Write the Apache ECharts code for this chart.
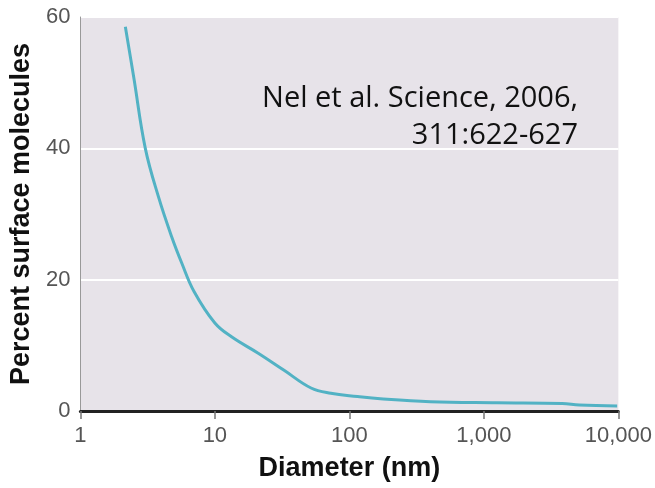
<!DOCTYPE html>
<html>
<head>
<meta charset="utf-8">
<script src="https://cdn.jsdelivr.net/npm/echarts@6/dist/echarts.min.js"></script>
<style>
  html, body { margin: 0; padding: 0; background: #fff; }
  #chart { width: 655px; height: 488px; }
</style>
</head>
<body>
<div id="chart"></div>
<script>
// diameter in nm (log axis) and percent of molecules at the surface
const diameters = [2.16, 2.49, 3.04, 3.81, 4.78, 5.68, 7.0, 10, 13.3, 21, 32.7, 51.9, 72.8, 115, 170, 400, 1250, 3820, 5130, 9800]
const percents = [58.5, 50.9, 40, 32.6, 26.5, 22.5, 18.2, 13.4, 11.3, 8.8, 6.2, 3.5, 2.7, 2.2, 1.85, 1.4, 1.25, 1.15, 0.9, 0.75]
const yTicks = [0, 20, 40, 60]
const citation = ['Nel et al. Science, 2006,', '311:622-627']

const chart = echarts.init(document.getElementById('chart'))

const fmt = v => Number(v).toLocaleString('en-US')

const option = {
  animation: false,
  grid: {
    left: 78, right: 35, top: 17, bottom: 77,
    show: true,
    backgroundColor: '#e7e3e9',
    borderWidth: 0
  },
  xAxis: {
    type: 'log',
    logBase: 10,
    min: 1,
    max: 10000,
    name: 'Diameter (nm)',
    nameLocation: 'middle',
    nameGap: 44,
    nameTextStyle: { fontFamily: 'Liberation Sans', fontWeight: 'bold', fontSize: 27, color: '#111' },
    axisLine: { show: true, lineStyle: { color: '#222', width: 3 } },
    axisTick: { show: true, length: 8, lineStyle: { color: '#777', width: 1.5 } },
    minorTick: { show: false },
    splitLine: { show: false },
    axisLabel: {
      formatter: fmt,
      fontFamily: 'Liberation Sans',
      fontSize: 22,
      color: '#555',
      margin: 14
    }
  },
  yAxis: {
    type: 'value',
    min: yTicks[0],
    max: yTicks[yTicks.length - 1],
    interval: 20,
    name: 'Percent surface molecules',
    nameLocation: 'middle',
    nameGap: 45,
    nameTextStyle: { fontFamily: 'Liberation Sans', fontWeight: 'bold', fontSize: 27, color: '#111' },
    axisLine: { show: true, lineStyle: { color: '#999', width: 1 } },
    axisTick: { show: false },
    splitLine: { show: true, lineStyle: { color: '#ffffff', width: 2 } },
    axisLabel: {
      fontFamily: 'Liberation Sans',
      fontSize: 22,
      color: '#555',
      margin: 10
    }
  },
  graphic: [
    {
      type: 'text',
      right: 77,
      top: 84,
      style: { text: citation[0], fontFamily: 'Open Sans', fontSize: 29, fill: '#111' }
    },
    {
      type: 'text',
      right: 77,
      top: 121,
      style: { text: citation[1], fontFamily: 'Open Sans', fontSize: 29, fill: '#111' }
    }
  ],
  series: [
    {
      type: 'line',
      data: diameters.map((d, i) => [d, percents[i]]),
      smooth: 0.4,
      showSymbol: false,
      lineStyle: { color: '#52b2c4', width: 3 },
      z: 3
    }
  ]
}

chart.setOption(option)
</script>
</body>
</html>
